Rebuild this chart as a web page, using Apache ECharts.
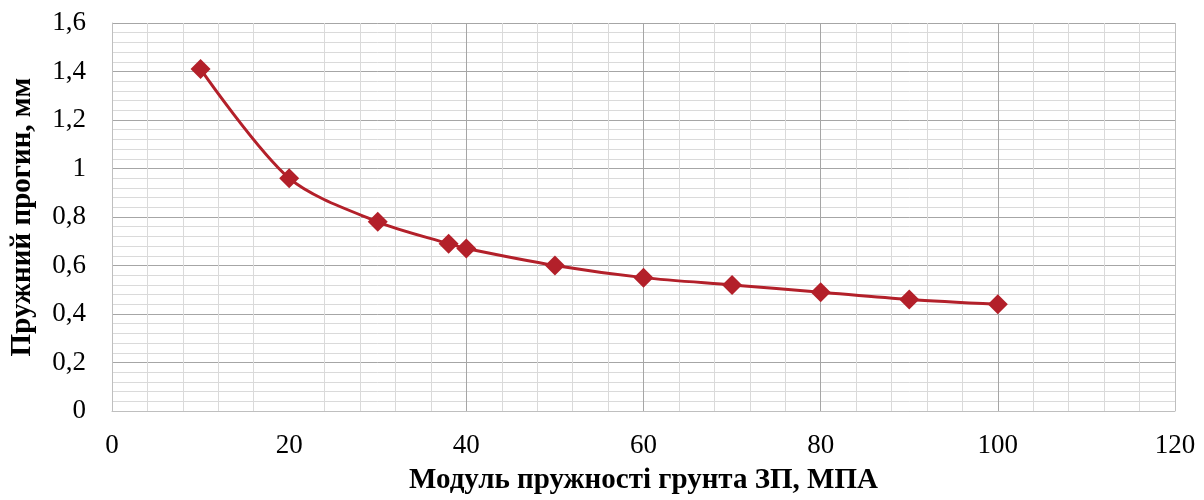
<!DOCTYPE html>
<html>
<head>
<meta charset="utf-8">
<script src="https://cdn.jsdelivr.net/npm/echarts@6/dist/echarts.min.js"></script>
<style>
  html, body { margin: 0; padding: 0; background: #fff; }
  #chart { width: 1204px; height: 500px; }
</style>
</head>
<body>
<div id="chart"></div>
<script>
// modulus of subgrade elasticity, MPa
var modulus = [10, 20, 30, 38, 40, 50, 60, 70, 80, 90, 100];
// elastic deflection, mm
var deflection = [1.41, 0.96, 0.78, 0.69, 0.67, 0.60, 0.55, 0.52, 0.49, 0.46, 0.44];
var xTicks = [0, 20, 40, 60, 80, 100, 120];
var yTicks = [0, 0.2, 0.4, 0.6, 0.8, 1.0, 1.2, 1.4, 1.6];

var points = [];
for (var i = 0; i < modulus.length; i++) {
    points.push([modulus[i], deflection[i]]);
}

var chart = echarts.init(document.getElementById('chart'));
var font = 'Liberation Serif';

var option = {
    animation: false,
    grid: { left: 112, right: 29, top: 23, bottom: 89 },
    xAxis: {
        type: 'value',
        min: xTicks[0],
        max: xTicks[xTicks.length - 1],
        interval: 20,
        name: 'Модуль пружності грунта ЗП, МПА',
        nameLocation: 'middle',
        nameGap: 55,
        nameTextStyle: { fontFamily: font, fontWeight: 'bold', fontSize: 29, color: '#000' },
        axisLine: { show: true, lineStyle: { color: '#bfbfbf', width: 1 } },
        axisTick: { show: false },
        axisLabel: { fontFamily: font, fontSize: 27, color: '#000', margin: 21 },
        splitLine: {
            show: true,
            // the 20 line is not drawn in the original
            lineStyle: { color: ['#bfbfbf', 'rgba(0,0,0,0)', '#a6a6a6', '#a6a6a6', '#a6a6a6', '#a6a6a6', '#bfbfbf'], width: 1 }
        },
        minorTick: { show: false, splitNumber: 5 },
        minorSplitLine: { show: true, lineStyle: { color: '#dadada', width: 1 } }
    },
    yAxis: {
        type: 'value',
        min: yTicks[0],
        max: yTicks[yTicks.length - 1],
        interval: 0.2,
        name: 'Пружний прогин, мм',
        nameLocation: 'middle',
        nameGap: 75,
        nameTextStyle: { fontFamily: font, fontWeight: 'bold', fontSize: 29, color: '#000' },
        axisLine: { show: true, lineStyle: { color: '#bfbfbf', width: 1 } },
        axisTick: { show: false },
        axisLabel: {
            fontFamily: font, fontSize: 27, color: '#000', margin: 26,
            formatter: function (v) {
                return String(Math.round(v * 10) / 10).replace('.', ',');
            }
        },
        splitLine: { show: true, lineStyle: { color: '#a6a6a6', width: 1 } },
        minorTick: { show: false, splitNumber: 5 },
        minorSplitLine: { show: true, lineStyle: { color: '#dadada', width: 1 } }
    },
    series: [
        {
            type: 'line',
            data: points,
            smooth: 0.3,
            symbol: 'diamond',
            symbolSize: 20,
            lineStyle: { color: '#b3202a', width: 3 },
            itemStyle: { color: '#b3202a' }
        }
    ]
};

chart.setOption(option);
</script>
</body>
</html>
